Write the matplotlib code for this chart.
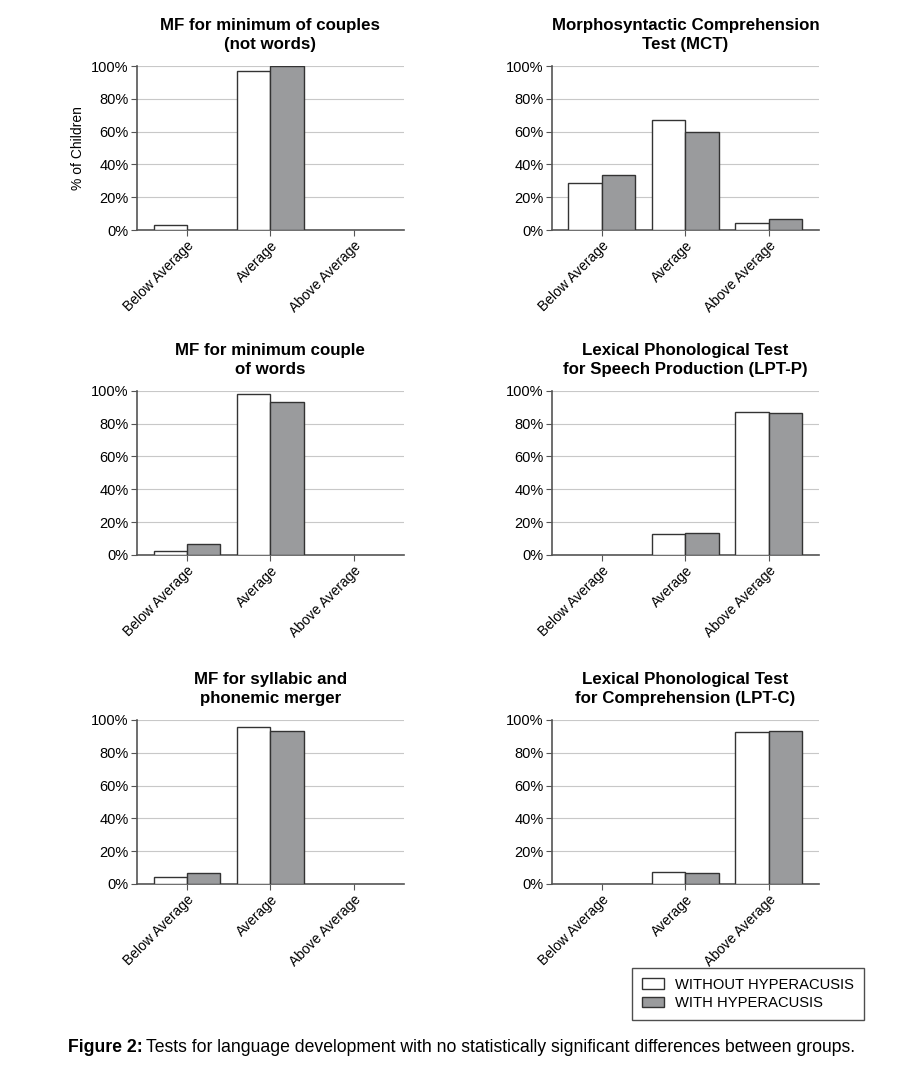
import matplotlib.pyplot as plt
import numpy as np
from matplotlib.patches import Patch
from matplotlib.ticker import PercentFormatter

plt.rcParams['font.family'] = ['Liberation Sans', 'DejaVu Sans']

categories = ['Below Average', 'Average', 'Above Average']

titles = [
    'MF for minimum of couples\n(not words)',
    'Morphosyntactic Comprehension\nTest (MCT)',
    'MF for minimum couple\nof words',
    'Lexical Phonological Test\nfor Speech Production (LPT-P)',
    'MF for syllabic and\nphonemic merger',
    'Lexical Phonological Test\nfor Comprehension (LPT-C)',
]

# % of children per category
without_hyp = [
    [3, 97, 0],
    [28.7, 67, 4],
    [2.5, 98, 0],
    [0, 13, 87],
    [4.3, 95.7, 0],
    [0, 7.3, 92.7],
]
with_hyp = [
    [0, 100, 0],
    [33.3, 60, 6.7],
    [6.7, 93.3, 0],
    [0, 13.3, 86.7],
    [6.7, 93.3, 0],
    [0, 6.7, 93.3],
]

fig = plt.figure(figsize=(9.12, 10.65), dpi=100)

lefts = [0.150, 0.605]
bottoms = [0.784, 0.479, 0.170]
w, h = 0.293, 0.154
edge = '#333333'
grey = '#9a9b9d'
x = np.arange(len(categories))
bw = 0.4

for i in range(6):
    ax = fig.add_axes([lefts[i % 2], bottoms[i // 2], w, h])
    v1 = np.array(without_hyp[i], dtype=float)
    v2 = np.array(with_hyp[i], dtype=float)
    # leave out empty bars so no outline is drawn on the baseline
    m1, m2 = v1 > 0, v2 > 0
    ax.bar(x[m1] - bw / 2, v1[m1], bw, color='white', edgecolor=edge, linewidth=1, zorder=3)
    ax.bar(x[m2] + bw / 2, v2[m2], bw, color=grey, edgecolor=edge, linewidth=1, zorder=3)
    ax.set_ylim(0, 100)
    ax.set_xlim(-0.6, 2.6)
    ax.set_yticks([0, 20, 40, 60, 80, 100])
    ax.yaxis.set_major_formatter(PercentFormatter(decimals=0))
    ax.set_xticks(x)
    ax.set_xticklabels(categories, rotation=45, ha='right', rotation_mode='anchor', fontsize=10)
    ax.tick_params(axis='y', labelsize=10.5, length=4, color='#555555', pad=2)
    ax.tick_params(axis='x', length=4, color='#555555', pad=2)
    ax.grid(axis='y', color='#c8c8c8', linewidth=0.8, zorder=0)
    for s in ['top', 'right']:
        ax.spines[s].set_visible(False)
    for s in ['left', 'bottom']:
        ax.spines[s].set_color('#555555')
        ax.spines[s].set_linewidth(1.2)
    ax.set_title(titles[i], fontsize=12.2, fontweight='bold', pad=12, linespacing=1.35)
    if i == 0:
        ax.set_ylabel('% of Children', fontsize=10)

handles = [Patch(facecolor='white', edgecolor=edge, label='WITHOUT HYPERACUSIS'),
           Patch(facecolor=grey, edgecolor=edge, label='WITH HYPERACUSIS')]
leg = fig.legend(handles=handles, loc='upper left', bbox_to_anchor=(632 / 912, 1 - 968 / 1065),
                 fontsize=10.6, frameon=True, fancybox=False, edgecolor='#222222',
                 borderpad=0.65, handlelength=1.5, handleheight=0.7, labelspacing=0.3,
                 borderaxespad=0)
leg.get_frame().set_linewidth(1.0)

fig.text(68 / 912, 1 - 1048 / 1065, 'Figure 2:', fontsize=12.7, fontweight='bold', va='center')
fig.text(146 / 912, 1 - 1048 / 1065,
         'Tests for language development with no statistically significant differences between groups.',
         fontsize=12.7, va='center')

fig.savefig('out.png', dpi=100)
